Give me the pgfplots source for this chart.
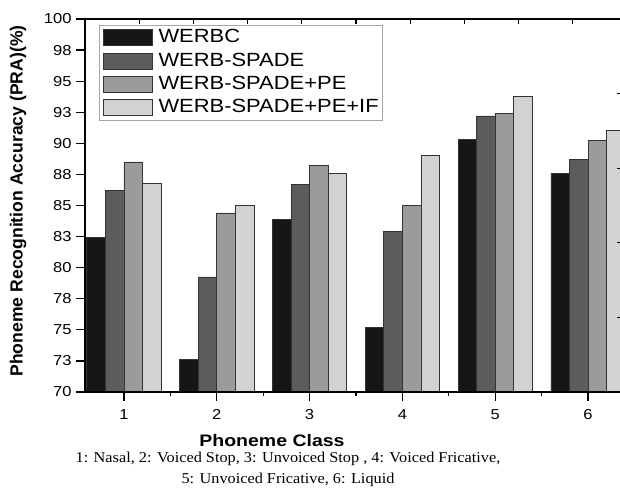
\documentclass[border=0pt]{standalone}
\usepackage{pgfplots}
\pgfplotsset{compat=1.18}
\usepackage{graphicx}
\usepackage{fontspec}
\setmainfont{Liberation Sans}
\newfontfamily\capfont{Liberation Serif}
\usetikzlibrary{calc}
\definecolor{cA}{HTML}{161616}
\definecolor{cB}{HTML}{5C5C5C}
\definecolor{cC}{HTML}{9B9B9B}
\definecolor{cD}{HTML}{D1D3D3}
\definecolor{edge}{HTML}{333333}
\newcommand{\wide}[2][1.15]{\scalebox{#1}[1]{#2}}
\pgfplotsset{
  /pgfplots/ybar legend/.style={
    /pgfplots/legend image code/.code={\draw[##1, line width=0.6pt] (0pt,-6pt) rectangle (36.75pt,6pt);}},
}
\tikzset{
  bar/.style={draw=edge, line width=0.6pt, fill=#1},
}

\begin{document}
\begin{tikzpicture}
\begin{axis}[
  scale only axis,
  width=406.5pt, height=279.75pt,
  xmin=0.58, xmax=6.42,
  ymin=70, ymax=100,
  ybar=0pt, bar width=0.2,
  xtick={1,2,3,4,5,6},
  xticklabels={\wide{1},\wide{2},\wide{3},\wide{4},\wide{5},\wide{6}},
  minor xtick={1.5,2.5,3.5,4.5,5.5},
  ytick={70,72.5,75,77.5,80,82.5,85,87.5,90,92.5,95,97.5,100},
  yticklabels={\wide{70},\wide{73},\wide{75},\wide{78},\wide{80},\wide{83},\wide{85},\wide{88},\wide{90},\wide{93},\wide{95},\wide{98},\wide{100}},
  xtick pos=bottom, ytick pos=left,
  tick align=outside,
  major tick length=6.5pt, minor tick length=3pt,
  every tick/.style={black, line width=0.9pt},
  axis line style={line width=1pt},
  tick label style={font=\fontsize{10.8}{12}\selectfont},
  xticklabel style={yshift=-3pt},
  legend cell align=left,
  legend style={at={(0,1)}, anchor=north west, xshift=10.5pt, yshift=-4.5pt,
    draw=gray!70, line width=0.6pt, inner xsep=2.5pt, inner ysep=2.5pt,
    row sep=4pt, column sep=4.5pt,
    font=\fontsize{14.3}{17}\selectfont,
    nodes={inner sep=0pt, text height=10.5pt, text depth=3pt}},
]
\coordinate (O) at (rel axis cs:0,0);
\coordinate (T) at (rel axis cs:0,1);
\addplot[bar=cA] coordinates {(1,82.4) (2,72.6) (3,83.9) (4,75.2) (5,90.3) (6,87.6)};
\addplot[bar=cB] coordinates {(1,86.2) (2,79.25) (3,86.7) (4,82.9) (5,92.2) (6,88.7)};
\addplot[bar=cC] coordinates {(1,88.5) (2,84.4) (3,88.2) (4,85.0) (5,92.4) (6,90.2)};
\addplot[bar=cD] coordinates {(1,86.8) (2,85.0) (3,87.6) (4,89.0) (5,93.8) (6,91.0)};
\legend{\wide{WERBC},\wide{WERB-SPADE},\wide{WERB-SPADE+PE},\wide{WERB-SPADE+PE+IF}}
\end{axis}
% top ticks
\begin{axis}[
  scale only axis,
  width=406.5pt, height=279.75pt,
  xmin=0, xmax=10, ymin=0, ymax=1,
  xtick={1,...,9}, xticklabels={}, ytick=\empty,
  xtick pos=top, tick align=inside,
  major tick length=3.75pt,
  every tick/.style={black, line width=0.9pt},
  axis line style={line width=1pt},
]
\end{axis}
% right ticks
\begin{axis}[
  scale only axis,
  width=406.5pt, height=279.75pt,
  xmin=0, xmax=1, ymin=0, ymax=5,
  ytick={1,2,3,4}, yticklabels={}, xtick=\empty,
  ytick pos=right, tick align=inside,
  major tick length=7.5pt,
  every tick/.style={black, line width=0.9pt},
  axis line style={line width=1pt},
]
\end{axis}
\node[anchor=base, font=\bfseries\fontsize{12.5}{14}\selectfont] at ($(O)+(140.25pt,-41.25pt)$) {\wide[1.17]{Phoneme Class}};
\node[anchor=base, font=\capfont\fontsize{11.3}{13}\selectfont] at ($(O)+(152.25pt,-53.25pt)$) {\wide[1.08]{1: Nasal, 2: Voiced Stop, 3: Unvoiced Stop , 4: Voiced Fricative,}};
\node[anchor=base, font=\capfont\fontsize{11.3}{13}\selectfont] at ($(O)+(152.25pt,-69pt)$) {\wide[1.08]{5: Unvoiced Fricative, 6: Liquid}};
\node[rotate=90, font=\bfseries\fontsize{13.2}{15}\selectfont] at ($(O)+(-50.25pt,143.25pt)$) {Phoneme Recognition Accuracy (PRA)(\%)};
\pgfresetboundingbox
\path[use as bounding box] ($(O)+(-63.75pt,-77.25pt)$) rectangle ($(T)+(401.25pt,14.25pt)$);
\end{tikzpicture}
\end{document}
